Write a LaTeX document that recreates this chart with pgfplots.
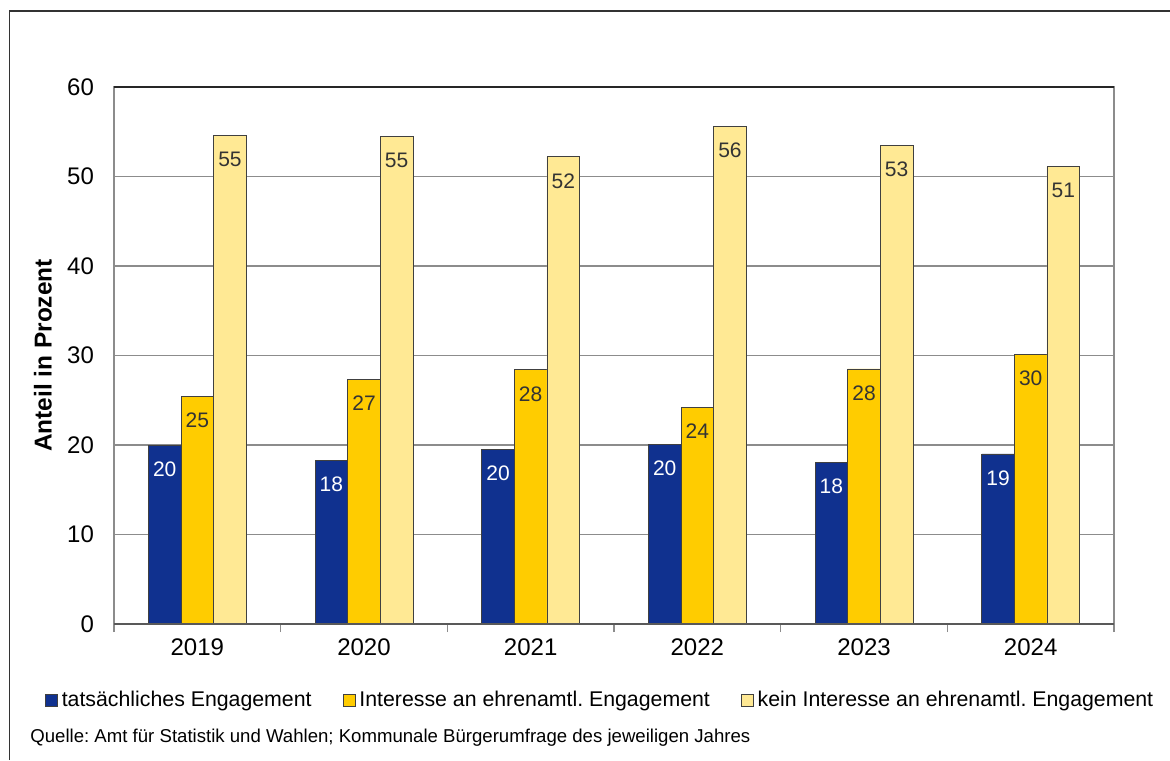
\documentclass[border=0pt]{standalone}
\usepackage{pgfplots}
\pgfplotsset{compat=1.18}
\usepackage{fontspec}
\setmainfont{Liberation Sans}
\definecolor{cblue}{HTML}{10318F}
\definecolor{cyel}{HTML}{FFCC00}
\definecolor{clight}{HTML}{FFE994}
\definecolor{cedge}{HTML}{404040}
\definecolor{cgrid}{HTML}{8C8C8C}
\begin{document}
\frenchspacing
\begin{tikzpicture}
\begin{axis}[
  at={(57pt,68pt)}, anchor=south west,
  scale only axis, width=500pt, height=268.5pt,
  xmin=-0.5, xmax=5.5, ymin=0, ymax=60,
  ytick={0,10,...,60},
  xtick={0,1,2,3,4,5},
  xticklabels={2019,2020,2021,2022,2023,2024},
  minor xtick={-0.5,0.5,1.5,2.5,3.5,4.5,5.5},
  major tick length=0pt, minor tick length=4pt, tick align=outside,
  xtick pos=bottom, ytick pos=left,
  minor tick style={cgrid, line width=0.7pt},
  ymajorgrids, grid style={cgrid, line width=0.7pt},
  axis line style={cgrid, line width=0.7pt},
  /pgf/number format/assume math mode=true,
  ticklabel style={font=\fontsize{12}{14}\selectfont},
  yticklabel style={xshift=-6.5pt},
  xticklabel style={yshift=-4pt},
  ylabel={Anteil in Prozent},
  ylabel style={at={(axis description cs:-0.071,0.5)}, anchor=center, font=\fontsize{12.2}{14}\selectfont\bfseries},
  ybar, bar width=16.3pt,
  point meta=explicit symbolic,
  nodes near coords,
  every node near coord/.append style={anchor=center, yshift=-12pt, font=\fontsize{10.5}{12}\selectfont},
  legend image code/.code={\draw[#1,draw=cedge,line width=0.4pt] (0pt,-3pt) rectangle (6pt,3pt);},
  legend columns=3,
  legend cell align=left,
  legend style={draw=none, fill=none, inner sep=0pt, outer sep=0pt,
    at={(-0.069,-0.1415)}, anchor=west,
    font=\fontsize{10.65}{12}\selectfont,
    /tikz/every odd column/.append style={column sep=0pt},
    /tikz/every even column/.append style={column sep=13.5pt}},
]
\addplot[fill=cblue, draw=cedge, line width=0.4pt, bar shift=-16.3pt,
  every node near coord/.append style={text=white}]
  coordinates {(0,20.0) [20] (1,18.3) [18] (2,19.5) [20] (3,20.1) [20] (4,18.1) [18] (5,19.0) [19]};
\addplot[fill=cyel, draw=cedge, line width=0.4pt, bar shift=0pt,
  every node near coord/.append style={text=black!80}]
  coordinates {(0,25.4) [25] (1,27.3) [27] (2,28.4) [28] (3,24.2) [24] (4,28.5) [28] (5,30.1) [30]};
\addplot[fill=clight, draw=cedge, line width=0.4pt, bar shift=16.3pt,
  every node near coord/.append style={text=black!80}]
  coordinates {(0,54.6) [55] (1,54.5) [55] (2,52.2) [52] (3,55.6) [56] (4,53.5) [53] (5,51.1) [51]};
\legend{tatsächliches Engagement, Interesse an ehrenamtl. Engagement, kein Interesse an ehrenamtl. Engagement}
\draw[black!85, line width=0.7pt] (rel axis cs:0,1) -- (rel axis cs:1,1);
\draw[black!65, line width=0.7pt] (rel axis cs:0,0) -- (rel axis cs:1,0);
\end{axis}
\node[anchor=west, inner sep=0pt, font=\fontsize{9.3}{11}\selectfont] at (15pt,11pt) {Quelle: Amt für Statistik und Wahlen; Kommunale Bürgerumfrage des jeweiligen Jahres};
\draw[line width=0.75pt, black!80] (4.75pt,0pt) -- (4.75pt,374.5pt) -- (585pt,374.5pt);
\pgfresetboundingbox
\path[use as bounding box] (0,0) rectangle (585pt,380pt);
\end{tikzpicture}
\end{document}
